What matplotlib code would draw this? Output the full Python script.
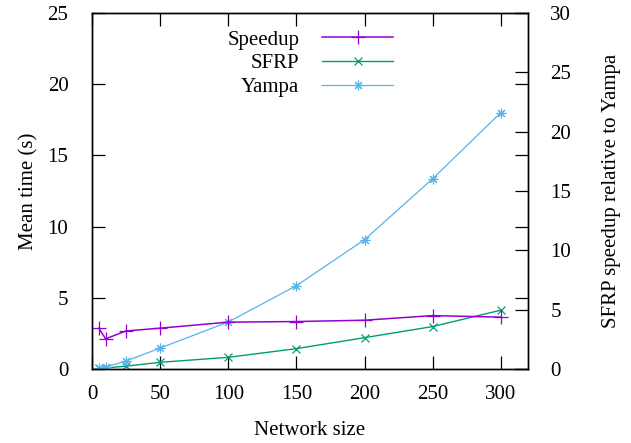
import matplotlib
matplotlib.use("Agg")
import matplotlib.pyplot as plt
from matplotlib.lines import Line2D

plt.rcParams['font.family'] = ['Liberation Serif', 'DejaVu Serif']
plt.rcParams['font.size'] = 15

# network sizes and measurements
sizes = [5, 10, 25, 50, 100, 150, 200, 250, 300]
yampa_time = [0.07, 0.15, 0.56, 1.47, 3.30, 5.85, 9.08, 13.36, 18.0]
sfrp_time = [0.05, 0.07, 0.20, 0.47, 0.82, 1.43, 2.20, 2.98, 4.13]
speedup = [3.44, 2.54, 3.21, 3.44, 3.95, 4.00, 4.11, 4.50, 4.37]

c_speed = '#9400d3'
c_sfrp = '#009e73'
c_yampa = '#56b4e9'

fig = plt.figure(figsize=(6.31, 4.43), dpi=100)
ax = fig.add_axes([92/631, 74/443, 436/631, 356/443])
ax2 = ax.twinx()

star = (8, 2, 0)
ax.plot(sizes, sfrp_time, color=c_sfrp, lw=1.0, marker='x', ms=6, mew=0.9)
ax.plot(sizes, yampa_time, color=c_yampa, lw=0.9, marker=star, ms=7, mew=0.8)
ax2.plot(sizes, speedup, color=c_speed, lw=1.1, marker='+', ms=10, mew=0.9)

ax.set_xlim(0, 320)
ax.set_ylim(0, 25)
ax2.set_ylim(0, 30)
ax.set_xticks(range(0, 301, 50))
ax.set_yticks(range(0, 26, 5))
ax2.set_yticks(range(0, 31, 5))

ax.tick_params(direction='in', length=9.5, width=0.9, top=True, right=True,
               labelright=False)
ax.tick_params(axis='x', pad=11.5)
ax.tick_params(axis='y', pad=17)
ax2.tick_params(direction='in', length=9.5, width=0.9, left=False, pad=16)

ax.set_xlabel('Network size', labelpad=12)
ax.set_ylabel('Mean time (s)', labelpad=6.5)
ax2.set_ylabel('SFRP speedup relative to Yampa', labelpad=22)

for a in (ax, ax2):
    for s in a.spines.values():
        s.set_linewidth(1.0)

handles = [
    Line2D([], [], color=c_speed, lw=1.1, marker='+', ms=10, mew=0.9),
    Line2D([], [], color=c_sfrp, lw=1.0, marker='x', ms=6, mew=0.9),
    Line2D([], [], color=c_yampa, lw=0.9, marker=star, ms=7, mew=0.8),
]
ax2.legend(handles, ['Speedup', 'SFRP', 'Yampa'], loc='upper right',
           bbox_to_anchor=((393 - 92) / 436, (369 - 30) / 356),
           frameon=False, markerfirst=False, borderpad=0, borderaxespad=0,
           handlelength=3.4, handletextpad=1.1, labelspacing=0.2)

fig.savefig('out.png', dpi=100)
